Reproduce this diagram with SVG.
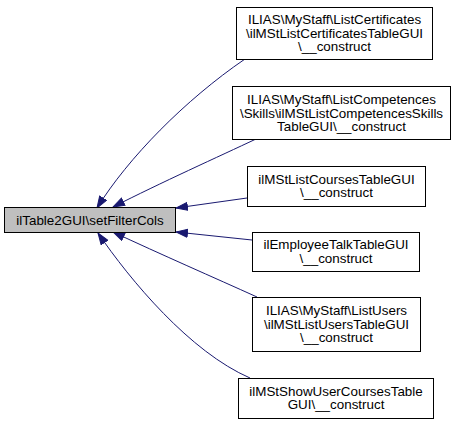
<svg xmlns="http://www.w3.org/2000/svg" width="455" height="425" viewBox="0 0 455 425">
<style>
.box{fill:#ffffff;stroke:#000000;stroke-width:1}
.root{fill:#bfbfbf;stroke:#000000;stroke-width:1}
text{font-family:"Liberation Sans",Arial,sans-serif;font-size:13.4px;fill:#000000;text-anchor:middle}
.edge{fill:none;stroke:#191970;stroke-width:1}
</style>
<defs>
<marker id="ah" markerUnits="userSpaceOnUse" markerWidth="13" markerHeight="10" refX="12" refY="4.5" orient="auto" viewBox="0 0 13 10">
<path d="M0.5,0.5 L12,4.5 L0.5,8.5 z" fill="#191970" stroke="#191970" stroke-width="1"/>
</marker>
</defs>
<rect width="455" height="425" fill="#ffffff"/>
<g id="edges">
<path class="edge" marker-end="url(#ah)" d="M245,59 C185,100 128,158 97,208"/>
<path class="edge" marker-end="url(#ah)" d="M256,139 C220,156 160,183 113,207"/>
<path class="edge" marker-end="url(#ah)" d="M247,198 L176,208"/>
<path class="edge" marker-end="url(#ah)" d="M252,240 L176,232"/>
<path class="edge" marker-end="url(#ah)" d="M257,297 C215,278 160,254 113,232"/>
<path class="edge" marker-end="url(#ah)" d="M250,378 C190,352 130,280 98,233"/>
</g>
<g id="root">
<rect class="root" x="4.5" y="207.5" width="171" height="25"/>
<text x="90" y="224.5">ilTable2GUI\setFilterCols</text>
</g>
<g id="n1">
<rect class="box" x="236.5" y="7.5" width="196" height="52"/>
<text x="334.5" y="24">ILIAS\MyStaff\ListCertificates</text>
<text x="334.5" y="37.5">\ilMStListCertificatesTableGUI</text>
<text x="334.5" y="51">\__construct</text>
</g>
<g id="n2">
<rect class="box" x="232.5" y="86.5" width="218" height="53"/>
<text x="341.5" y="104">ILIAS\MyStaff\ListCompetences</text>
<text x="341.5" y="117.5">\Skills\ilMStListCompetencesSkills</text>
<text x="341.5" y="131">TableGUI\__construct</text>
</g>
<g id="n3">
<rect class="box" x="247.5" y="166.5" width="178" height="40"/>
<text x="336.5" y="183.5">ilMStListCoursesTableGUI</text>
<text x="336.5" y="197">\__construct</text>
</g>
<g id="n4">
<rect class="box" x="252.5" y="232.5" width="167" height="39"/>
<text x="336" y="249">ilEmployeeTalkTableGUI</text>
<text x="336" y="262.5">\__construct</text>
</g>
<g id="n5">
<rect class="box" x="252.5" y="297.5" width="168" height="54"/>
<text x="336.5" y="315">ILIAS\MyStaff\ListUsers</text>
<text x="336.5" y="328.5">\ilMStListUsersTableGUI</text>
<text x="336.5" y="342">\__construct</text>
</g>
<g id="n6">
<rect class="box" x="238.5" y="378.5" width="195" height="40"/>
<text x="336" y="395.5">ilMStShowUserCoursesTable</text>
<text x="336" y="409">GUI\__construct</text>
</g>
</svg>
